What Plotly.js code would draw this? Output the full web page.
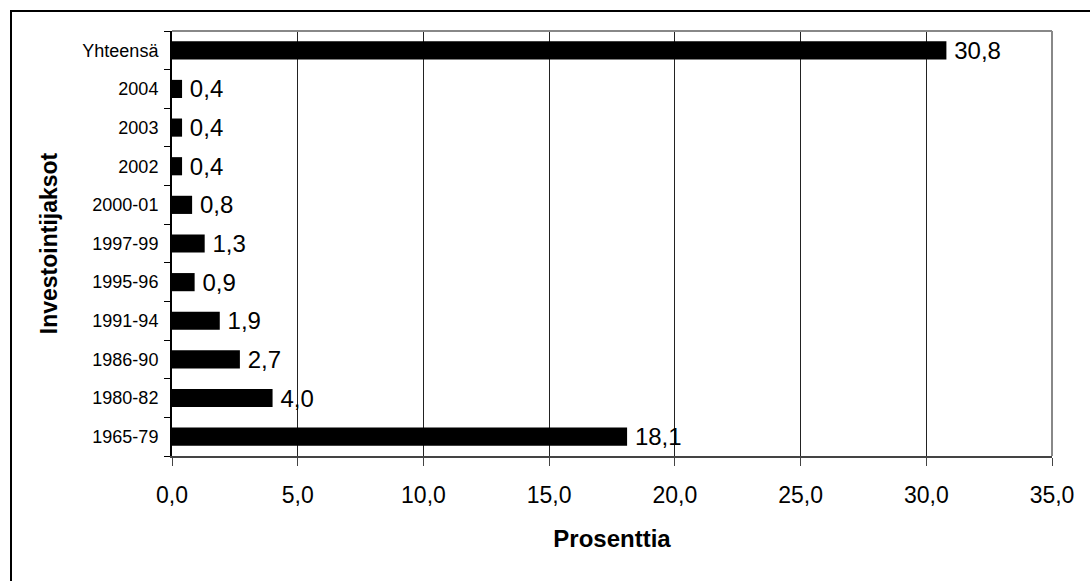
<!DOCTYPE html>
<html>
<head>
<meta charset="utf-8">
<script src="https://cdn.plot.ly/plotly-3.0.1.min.js"></script>
<style>
  html, body { margin: 0; padding: 0; background: #fff; overflow: hidden; }
  #wrap { position: relative; width: 1090px; height: 581px; }
  #chart { width: 1090px; height: 581px; }
  #frame {
    position: absolute; left: 10px; top: 10px; width: 1100px; height: 600px;
    border-left: 2px solid #000; border-top: 2px solid #000;
    pointer-events: none; box-sizing: border-box;
  }
</style>
</head>
<body>
<div id="wrap">
  <div id="chart"></div>
  <div id="frame"></div>
</div>
<script>
// Investment periods (bottom to top) and their shares in percent
const periods = ["1965-79", "1980-82", "1986-90", "1991-94", "1995-96", "1997-99",
                 "2000-01", "2002", "2003", "2004", "Yhteensä"];
const shares = [18.1, 4.0, 2.7, 1.9, 0.9, 1.3, 0.8, 0.4, 0.4, 0.4, 30.8];
const xTicks = [0, 5, 10, 15, 20, 25, 30, 35];

const fontFamily = "Liberation Sans, Arial, Helvetica, sans-serif";

const trace = {
  type: "bar",
  orientation: "h",
  x: shares,
  y: periods,
  width: 0.47,
  marker: { color: "#000", line: { width: 0 } },
  // thin space keeps the value label a little away from the bar end
  texttemplate: "\u2009%{x:.1f}",
  textposition: "outside",
  constraintext: "none",
  cliponaxis: false,
  textfont: { family: fontFamily, size: 24, color: "#000" },
  hoverinfo: "skip"
};

const layout = {
  width: 1090,
  height: 581,
  margin: { l: 172, r: 38, t: 31, b: 125 },
  paper_bgcolor: "#fff",
  plot_bgcolor: "#fff",
  separators: ", ",
  showlegend: false,
  font: { family: fontFamily, color: "#000" },
  xaxis: {
    range: [0, 35],
    tickvals: xTicks,
    tickformat: ".1f",
    ticks: "outside",
    ticklen: 8,
    tickcolor: "#444",
    tickwidth: 1,
    ticklabelstandoff: 9,
    tickfont: { family: fontFamily, size: 23, color: "#000" },
    showgrid: true,
    gridcolor: "#222",
    gridwidth: 1,
    zeroline: false,
    showline: true,
    linecolor: "#444",
    linewidth: 2,
    mirror: false,
    title: {
      text: "Prosenttia",
      font: { family: fontFamily, size: 24, color: "#000", weight: "bold" },
      standoff: 24
    },
    fixedrange: true
  },
  yaxis: {
    type: "category",
    categoryorder: "array",
    categoryarray: periods,
    ticks: "outside",
    tickson: "boundaries",
    ticklen: 6,
    tickcolor: "#000",
    tickwidth: 1,
    ticklabelstandoff: 8,
    tickfont: { family: fontFamily, size: 18, color: "#000" },
    showgrid: false,
    zeroline: false,
    showline: true,
    linecolor: "#000",
    linewidth: 2,
    title: {
      text: "Investointijaksot",
      font: { family: fontFamily, size: 23, color: "#000", weight: "bold" },
      standoff: 18
    },
    fixedrange: true
  },
  shapes: [
    // light grey frame on the top and right of the plot area
    { type: "line", xref: "paper", yref: "paper", x0: 0, x1: 1, y0: 1, y1: 1,
      line: { color: "#888", width: 2 } },
    { type: "line", xref: "paper", yref: "paper", x0: 1, x1: 1, y0: 0, y1: 1,
      line: { color: "#888", width: 2 } }
  ]
};

Plotly.newPlot("chart", [trace], layout, { displayModeBar: false, staticPlot: true });
</script>
</body>
</html>
